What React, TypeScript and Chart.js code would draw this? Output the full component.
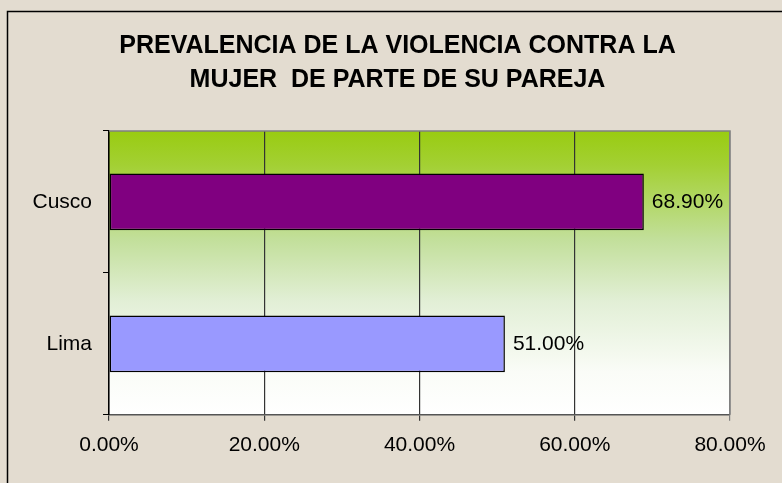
import React, { useEffect, useRef } from "react";
import { Chart, registerables } from "chart.js";

Chart.register(...registerables);

const titleLines = ["PREVALENCIA DE LA VIOLENCIA CONTRA LA", "MUJER  DE PARTE DE SU PAREJA"];
const categories = ["Cusco", "Lima"];
const values = [68.9, 51.0];
const barColors = ["#800080", "#9999FF"];
const xTicks = [0, 20, 40, 60, 80];

const FONT = "'Liberation Sans', Arial, sans-serif";

const bgPlugin = {
  id: "bgPlugin",
  beforeDraw(chart: any) {
    const { ctx, width, height, chartArea: a } = chart;
    ctx.save();
    ctx.fillStyle = "#e3dcd0";
    ctx.fillRect(0, 0, width, height);
    ctx.strokeStyle = "#000";
    ctx.lineWidth = 1.5;
    ctx.beginPath();
    ctx.moveTo(7.5, height);
    ctx.lineTo(7.5, 11.5);
    ctx.lineTo(width, 11.5);
    ctx.stroke();
    const g = ctx.createLinearGradient(0, a.top, 0, a.bottom);
    g.addColorStop(0, "#99cc11");
    g.addColorStop(0.12, "#a3d033");
    g.addColorStop(0.38, "#c2df9a");
    g.addColorStop(0.6, "#e2efd6");
    g.addColorStop(0.85, "#fafcf7");
    g.addColorStop(1, "#ffffff");
    ctx.fillStyle = g;
    ctx.fillRect(a.left, a.top, a.right - a.left, a.bottom - a.top);
    // title
    ctx.fillStyle = "#000";
    ctx.font = `bold 25px ${FONT}`;
    ctx.textAlign = "center";
    ctx.textBaseline = "alphabetic";
    titleLines.forEach((t, i) => ctx.fillText(t, 397.5, 53 + i * 34));
    ctx.restore();
  },
  beforeDatasetsDraw(chart: any) {
    const { ctx, chartArea: a } = chart;
    ctx.save();
    ctx.strokeStyle = "#808080";
    ctx.lineWidth = 1.5;
    ctx.beginPath();
    ctx.moveTo(a.left, a.top);
    ctx.lineTo(a.right, a.top);
    ctx.lineTo(a.right, a.bottom);
    ctx.stroke();
    ctx.restore();
  },
  afterDatasetsDraw(chart: any) {
    const { ctx } = chart;
    const meta = chart.getDatasetMeta(0);
    ctx.save();
    ctx.font = `21px ${FONT}`;
    ctx.fillStyle = "#000";
    ctx.textAlign = "left";
    ctx.textBaseline = "middle";
    meta.data.forEach((bar: any, i: number) => {
      ctx.fillText(values[i].toFixed(2) + "%", bar.x + 8, bar.y);
    });
    ctx.restore();
  },
};

export default function App() {
  const ref = useRef<HTMLCanvasElement>(null);
  useEffect(() => {
    document.body.style.margin = "0";
    const chart = new Chart(ref.current as HTMLCanvasElement, {
      type: "bar",
      data: {
        labels: categories,
        datasets: [
          {
            data: values,
            backgroundColor: barColors,
            borderColor: "#000",
            borderWidth: 1.5,
            borderSkipped: false,
            barPercentage: 0.4,
            categoryPercentage: 1,
          },
        ],
      },
      options: {
        indexAxis: "y",
        responsive: false,
        animation: false,
        layout: { padding: { left: 21.5, right: 52, top: 131, bottom: 13 } },
        plugins: {
          legend: { display: false },
          tooltip: { enabled: false },
          title: { display: false },
        },
        scales: {
          x: {
            min: 0,
            max: 80,
            afterBuildTicks: (s: any) => {
              s.ticks = xTicks.map((v) => ({ value: v }));
            },
            ticks: {
              color: "#000",
              font: { family: FONT, size: 21 },
              padding: 12,
              callback: (v: any) => Number(v).toFixed(2) + "%",
            },
            grid: {
              color: (c: any) => (c.tick && c.tick.value === 80 ? "#808080" : "#333"),
              lineWidth: 1.2,
              tickLength: 6,
              drawTicks: true,
            },
            border: { color: "#555", width: 1.5 },
          },
          y: {
            offset: true,
            ticks: {
              color: "#000",
              font: { family: FONT, size: 21 },
              padding: 11,
            },
            grid: {
              drawOnChartArea: false,
              drawTicks: true,
              tickLength: 6,
              color: "#000",
              offset: true,
            },
            border: { color: "#000", width: 1.5 },
          },
        },
      },
      plugins: [bgPlugin],
    } as any);
    return () => chart.destroy();
  }, []);
  return <canvas ref={ref} width={782} height={483} style={{ display: "block" }} />;
}
